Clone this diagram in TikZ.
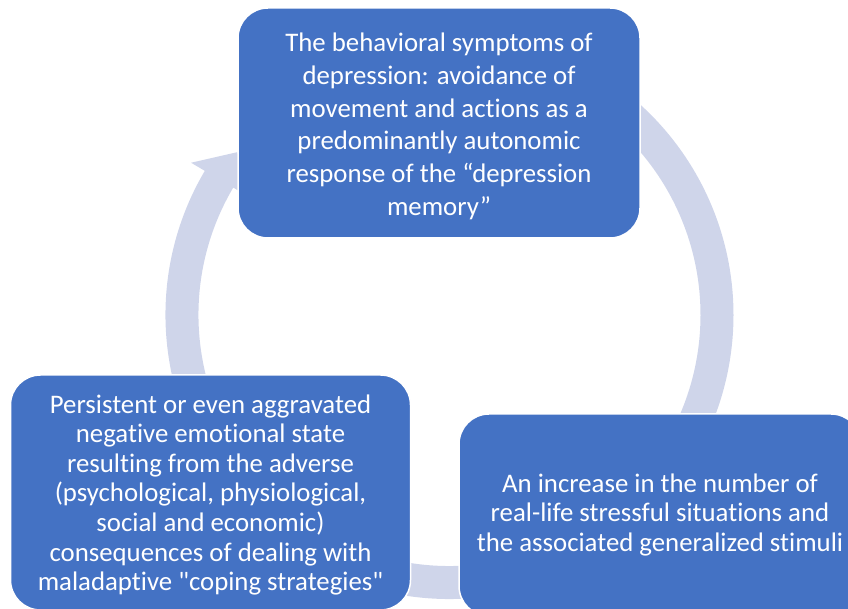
\documentclass[tikz,border=0pt]{standalone}
\usepackage{fontspec}
\setmainfont{Carlito}[Ligatures={TeXOff,NoCommon}]
\definecolor{boxblue}{HTML}{4472C4}
\definecolor{ringc}{HTML}{CFD5EA}
\begin{document}
\begin{tikzpicture}[x=1pt,y=1pt,
  cbox/.style={draw=white, line width=1.5pt, fill=boxblue, rounded corners=30pt, inner sep=0pt},
  ctxt/.style={text=white, align=center, inner sep=0pt},
  bigtxt/.style={font=\fontsize{26.8}{32.7}\selectfont},
  smalltxt/.style={font=\fontsize{26.8}{29.6}\selectfont}
]
\useasboundingbox (0,0) rectangle (848,609);
\coordinate (c) at (449.5,294);
% ring band
\draw[ringc, line width=33pt] ([shift={(149:267.5)}]c) arc[start angle=149, end angle=420, radius=267.5];
% arrowhead
\fill[ringc] ([shift={(149.5:300)}]c) -- ([shift={(142.5:267.5)}]c) -- ([shift={(149.5:235)}]c) -- cycle;
% boxes
\node[cbox, minimum width=402pt, minimum height=230pt] (top) at (439,486) {};
\node[cbox, minimum width=400pt, minimum height=235pt] (left) at (210.5,116.5) {};
\node[cbox, minimum width=402pt, minimum height=202pt] (right) at (660,94) {};
% texts
\node[ctxt, bigtxt] (toptxt) at (439,482.5)
  {The behavioral symptoms of\\ depression: avoidance of\\ movement and actions as a\\ predominantly autonomic\\ response of the “depression\\ memory”};
\node[ctxt, smalltxt] (lefttxt) at (210.5,114)
  {Persistent or even aggravated\\ negative emotional state\\ resulting from the adverse\\ (psychological, physiological,\\ social and economic)\\ consequences of dealing with\\ maladaptive "coping strategies"};
\node[ctxt, smalltxt] (righttxt) at (660,94)
  {An increase in the number of\\ real-life stressful situations and\\ the associated generalized stimuli};
\end{tikzpicture}
\end{document}
